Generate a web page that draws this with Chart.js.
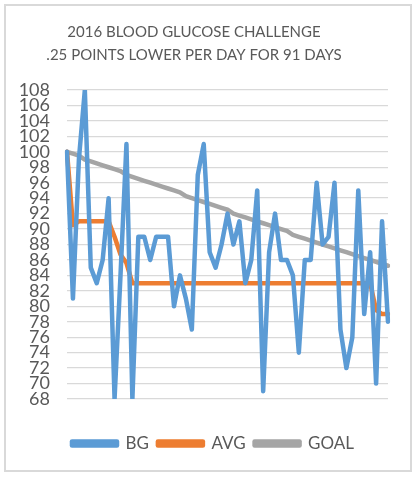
<!DOCTYPE html>
<html>
<head>
<meta charset="utf-8">
<script src="https://cdn.jsdelivr.net/npm/chart.js@4.4.1/dist/chart.umd.min.js"></script>
<style>
  html, body { margin: 0; padding: 0; background: #fff; }
  #wrap { position: relative; width: 419px; height: 477px; }
  #frame {
    position: absolute; left: 4px; top: 4px; width: 408px; height: 468px;
    box-sizing: border-box; border: 2px solid #d9d9d9;
  }
  canvas { position: absolute; left: 0; top: 0; }
</style>
</head>
<body>
<div id="wrap">
  <div id="frame"></div>
  <canvas id="myChart" width="419" height="477"></canvas>
</div>
<script>
'use strict';

// day numbers of the readings (a few days have no reading)
const days = [1, 2, 3, 5, 6, 7, 8, 9, 10, 11, 13, 14, 15, 16, 17, 18, 19, 20, 21, 22,
  24, 25, 26, 27, 28, 29, 30, 31, 33, 34, 35, 36, 37, 38, 39, 40, 41, 42, 44, 45,
  46, 47, 48, 49, 50, 51, 52, 53, 54, 55, 56, 57, 58, 59, 60];

const bg = [100, 81, 99, 108, 85, 83, 86, 94, 68, 84, 101, 68, 89, 89, 86, 89, 89, 89, 80, 84,
  81, 77, 97, 101, 87, 85, 88, 92, 88, 91, 83, 86, 95, 69, 87, 92, 86, 86, 84, 74,
  86, 86, 96, 88, 89, 96, 77, 72, 76, 95, 79, 87, 70, 91, 78];

const avg = [100, 90.5, 91, 91, 91, 91, 91, 91, 89, 86.7, 85.6, 83, 83, 83, 83, 83, 83, 83, 83, 83,
  83, 83, 83, 83, 83, 83, 83, 83, 83, 83, 83, 83, 83, 83, 83, 83, 83, 83, 83, 83,
  83, 83, 83, 83, 83, 83, 83, 83, 83, 83, 83, 83, 79.5, 79, 79];

const goal = [100, 99.75, 99.5, 99, 98.75, 98.5, 98.25, 98, 97.75, 97.5, 97, 96.75, 96.5, 96.25, 96, 95.75, 95.5, 95.25, 95, 94.75,
  94.25, 94, 93.75, 93.5, 93.25, 93, 92.75, 92.5, 92, 91.75, 91.5, 91.25, 91, 90.75, 90.5, 90.25, 90, 89.75, 89.25, 89,
  88.75, 88.5, 88.25, 88, 87.75, 87.5, 87.25, 87, 86.75, 86.5, 86.25, 86, 85.75, 85.5, 85.25];

const titel = ['2016 BLOOD GLUCOSE CHALLENGE', '.25 POINTS LOWER PER DAY FOR 91 DAYS'];

const tekstKleur = '#595959';
const lettertype = 'Lato, "Open Sans", sans-serif';

// legenda iets naar rechts schuiven, zoals in Excel
const legendaVerschuiving = {
  id: 'legendaVerschuiving',
  afterLayout: function(chart) {
    chart.legend.left += 19;
    chart.legend.right += 19;
  }
};

const maakLijn = function(label, data, kleur) {
  return {
    label: label,
    data: data,
    borderColor: kleur,
    backgroundColor: kleur,
    borderWidth: 4.5,
    borderJoinStyle: 'round',
    borderCapStyle: 'round',
    pointRadius: 0,
    tension: 0,
    fill: false
  };
};

const tekenGrafiek = function() {
  const ctx = document.getElementById('myChart');
  new Chart(ctx, {
    type: 'line',
    data: {
      labels: days,
      datasets: [
        maakLijn('BG', bg, '#5B9BD5'),
        maakLijn('AVG', avg, '#ED7D31'),
        maakLijn('GOAL', goal, '#A5A5A5')
      ]
    },
    options: {
      responsive: false,
      animation: false,
      layout: { padding: { left: 0, right: 31, top: 0, bottom: 15 } },
      plugins: {
        title: {
          display: true,
          text: titel,
          color: tekstKleur,
          font: { family: lettertype, size: 15, weight: 'normal', lineHeight: 1.5 },
          padding: { top: 21, bottom: 24 }
        },
        legend: {
          position: 'bottom',
          labels: {
            color: tekstKleur,
            font: { family: lettertype, size: 17 },
            boxWidth: 45,
            boxHeight: 4,
            padding: 9
          }
        },
        tooltip: { enabled: false }
      },
      scales: {
        x: {
          display: true,
          ticks: { display: false },
          grid: { display: false },
          border: { display: false },
          afterFit: function(scale) { scale.height = 27; }
        },
        y: {
          min: 68,
          max: 108,
          border: { display: false },
          grid: { color: '#d9d9d9', lineWidth: 1.3, drawTicks: false },
          ticks: {
            stepSize: 2,
            autoSkip: false,
            padding: 17,
            color: tekstKleur,
            font: { family: lettertype, size: 18 }
          },
          afterFit: function(scale) { scale.width = 67; }
        }
      }
    },
    plugins: [legendaVerschuiving]
  });
};

document.addEventListener('DOMContentLoaded', function() {
  tekenGrafiek();
});
</script>
</body>
</html>
